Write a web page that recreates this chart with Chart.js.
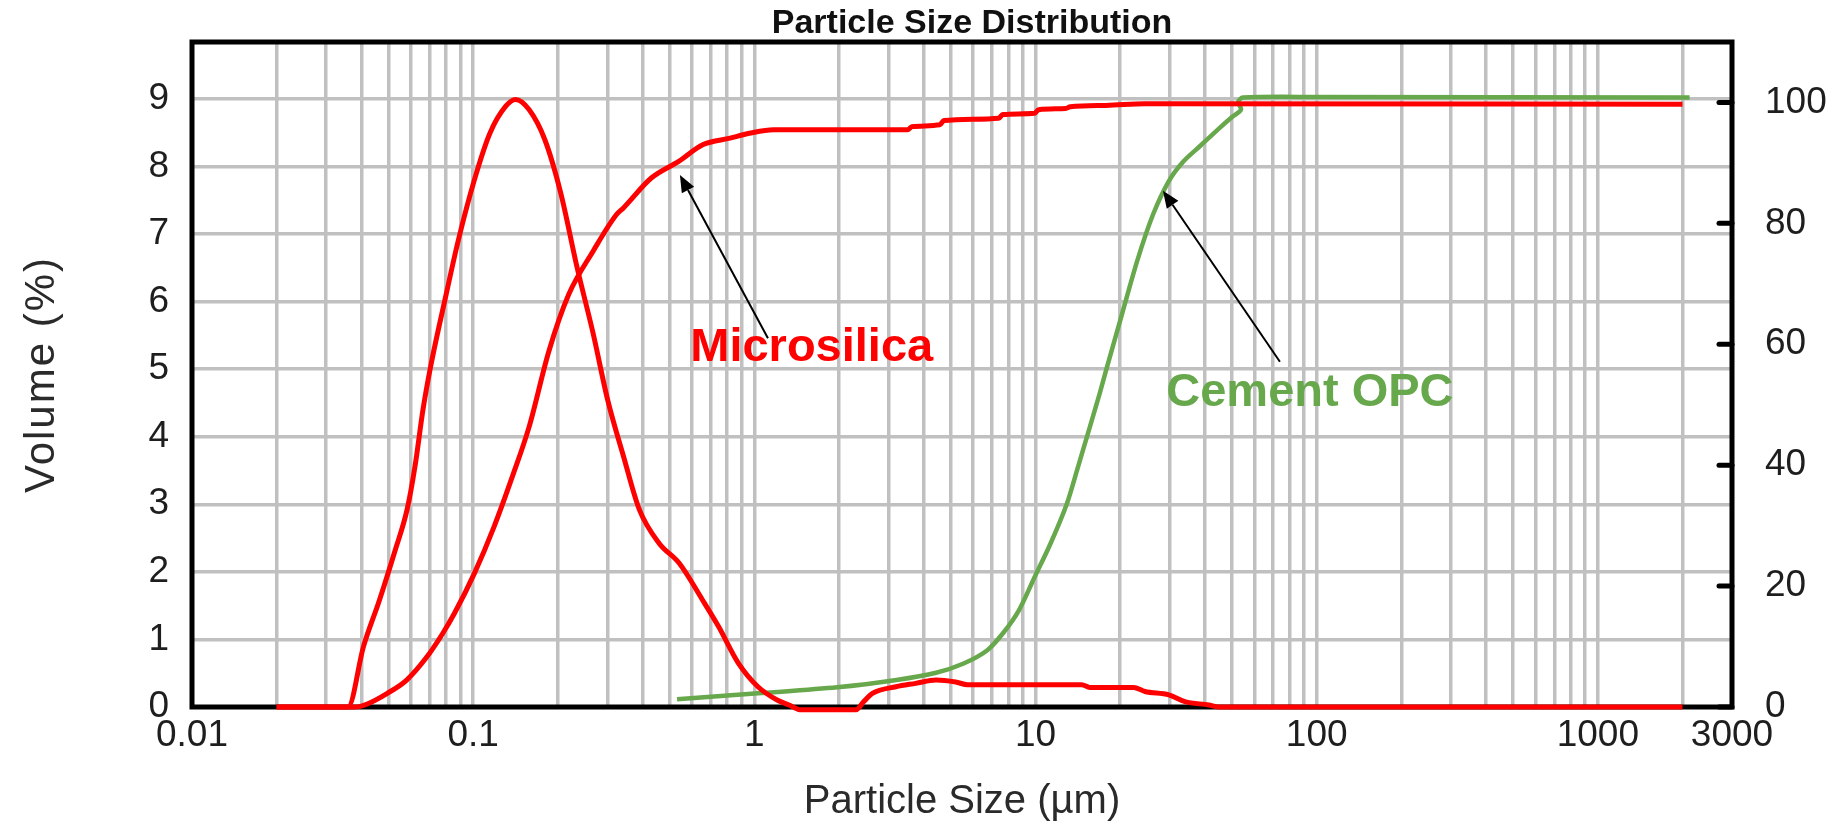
<!DOCTYPE html>
<html><head><meta charset="utf-8">
<script src="https://cdn.jsdelivr.net/npm/chart.js@4.4.1/dist/chart.umd.min.js"></script>
<style>html,body{margin:0;padding:0;background:#fff;}canvas{display:block;}</style>
</head><body>
<canvas id="c" width="1845" height="828"></canvas>
<script>
// ---- tick labels ----
const X_LABEL_VALUES = [0.01, 0.1, 1, 10, 100, 1000, 3000];
const X_LABELS = ['0.01', '0.1', '1', '10', '100', '1000', '3000'];
const LEFT_TICKS = [0, 1, 2, 3, 4, 5, 6, 7, 8, 9];
const RIGHT_TICKS = [0, 20, 40, 60, 80, 100];

// ---- Microsilica, frequency (Volume %, left axis) ----
const MS_FREQ_X = [0.02, 0.0359, 0.0407, 0.0464, 0.0528, 0.0582, 0.0621, 0.0663, 0.0706, 0.0803, 0.0886, 0.101, 0.1147, 0.1306, 0.1415, 0.158, 0.180, 0.205, 0.234, 0.267, 0.301, 0.343, 0.390, 0.459, 0.540, 0.655, 0.746, 0.877, 1.03, 1.21, 1.33, 1.45, 2.3, 2.45, 2.63, 3.19, 3.75, 4.43, 5.2, 5.73, 14.6, 15.6, 22.3, 24.5, 29.8, 34, 41.3, 45, 2000];
const MS_FREQ_Y = [0, 0, 0.89, 1.58, 2.32, 2.92, 3.56, 4.40, 5.04, 6.12, 6.91, 7.80, 8.49, 8.89, 8.99, 8.84, 8.39, 7.6, 6.51, 5.53, 4.54, 3.70, 2.92, 2.42, 2.13, 1.58, 1.19, 0.65, 0.30, 0.10, 0.03, -0.04, -0.04, 0.08, 0.2, 0.30, 0.35, 0.40, 0.37, 0.33, 0.33, 0.29, 0.29, 0.23, 0.18, 0.08, 0.03, 0, 0];

// ---- Microsilica, cumulative (right axis) ----
const MS_CUM_X = [0.02, 0.038, 0.042, 0.0495, 0.058, 0.0685, 0.078, 0.0858, 0.101, 0.1186, 0.139, 0.158, 0.186, 0.219, 0.267, 0.324, 0.343, 0.43, 0.54, 0.655, 0.82, 0.96, 1.17, 3.52, 3.63, 4.57, 4.72, 7.4, 7.65, 9.93, 10.25, 12.8, 13.3, 17.8, 24.5, 2000];
const MS_CUM_Y = [0, 0, 0.5, 2.26, 4.46, 8.3, 12.2, 15.5, 22.1, 29.8, 38.6, 46.3, 58.9, 68.3, 75.4, 81.5, 82.6, 87.5, 90.3, 93.0, 94.1, 94.9, 95.5, 95.5, 96.0, 96.3, 97.0, 97.4, 98.0, 98.2, 98.8, 99.0, 99.3, 99.5, 99.8, 99.7];

// ---- Cement OPC, cumulative (right axis) ----
const CEM_X = [0.531, 1.03, 1.97, 3.2, 4.43, 5.55, 6.74, 7.66, 8.73, 9.93, 11.3, 12.9, 14.2, 15.6, 16.9, 17.8, 20.2, 23.0, 26.2, 29.8, 33.5, 38.5, 45.2, 50.0, 53.8, 52.6, 54.7, 100, 2120];
const CEM_Y = [1.27, 2.26, 3.25, 4.46, 5.66, 7.2, 9.4, 12.2, 16.0, 21.5, 27.0, 33.5, 39.9, 46.3, 51.8, 55.6, 64.6, 73.8, 81.5, 87.0, 90.2, 92.8, 95.8, 97.6, 98.8, 100.1, 100.8, 100.9, 100.8];

// ---- annotations (data coordinates on x / right axis) ----
const LABELS = [
  { text: 'Microsilica', x: 1.6, y: 59.4, color: '#ff0000' },
  { text: 'Cement OPC', x: 94.6, y: 51.9, color: '#67a84c' }
];
const ARROWS = [
  { fromX: 1.118, fromY: 61.0, toX: 0.5436, toY: 88.0 },
  { fromX: 74.0, fromY: 57.1, toX: 28.4, toY: 85.4 }
];

const FONT = '"Liberation Sans", Arial, sans-serif';
const RED = '#ff0000';
const GREEN = '#67a84c';
const GRID = '#c0c0c0';
const TEXT = '#1e1e1e';

// pick a narrow face for the tick numbers when it is installed
function hasFont(name) {
  const c = document.createElement('canvas').getContext('2d');
  c.font = '40px monospace';
  const a = c.measureText('0123456789 mmm').width;
  c.font = '40px "' + name + '", monospace';
  return Math.abs(c.measureText('0123456789 mmm').width - a) > 0.5;
}
const NARROW = hasFont('Liberation Sans Narrow');
const TICK_FONT = NARROW ? { family: '"Liberation Sans Narrow", "Liberation Sans", Arial, sans-serif', size: 41 }
                         : { family: FONT, size: 37 };

// log grid positions 1..9 x 10^k inside the range
const X_GRID = [];
for (let e = -2; e <= 3; e++) {
  for (let m = 1; m <= 9; m++) {
    const v = +(m * Math.pow(10, e)).toPrecision(6);
    if (v >= 0.01 && v <= 3000) X_GRID.push(v);
  }
}
if (!X_GRID.includes(3000)) X_GRID.push(3000);

const pts = (xs, ys) => xs.map((x, i) => ({ x, y: ys[i] }));
const noPad = s => { s.paddingTop = 0; s.paddingBottom = 0; s.paddingLeft = 0; s.paddingRight = 0; };

// the y title in the original is loosely spaced
const spacingPlugin = {
  id: 'spacing',
  afterLayout(chart) {
    const s = chart.scales.y;
    if (s && !s.__spaced) {
      const orig = s.drawTitle.bind(s);
      s.drawTitle = function () {
        const c = this.ctx;
        const prev = c.letterSpacing;
        c.letterSpacing = '2px';
        orig();
        c.letterSpacing = prev || '0px';
      };
      s.__spaced = true;
    }
  }
};

const framePlugin = {
  id: 'frame',
  beforeDatasetsDraw(chart) {
    const { ctx, chartArea: a } = chart;
    ctx.save();
    ctx.strokeStyle = '#000';
    ctx.lineWidth = 5;
    ctx.strokeRect(a.left, a.top, a.right - a.left, a.bottom - a.top);
    const s = chart.scales.y2;
    ctx.lineCap = 'round';
    s.ticks.forEach(t => {
      const y = s.getPixelForValue(t.value);
      ctx.beginPath();
      ctx.moveTo(a.right - 13, y);
      ctx.lineTo(a.right, y);
      ctx.stroke();
    });
    ctx.restore();
  }
};

const annotPlugin = {
  id: 'annot',
  afterDatasetsDraw(chart) {
    const { ctx, chartArea: a, scales } = chart;
    const sx = scales.x, sy = scales.y2;
    ctx.save();
    // title
    ctx.fillStyle = '#111';
    ctx.font = 'bold 34px ' + FONT;
    ctx.textAlign = 'center';
    ctx.textBaseline = 'alphabetic';
    ctx.fillText('Particle Size Distribution', (a.left + a.right) / 2 + 10, a.top - 9);
    // arrows
    ctx.strokeStyle = '#000';
    ctx.fillStyle = '#000';
    ctx.lineWidth = 2;
    ARROWS.forEach(ar => {
      const x0 = sx.getPixelForValue(ar.fromX), y0 = sy.getPixelForValue(ar.fromY);
      const x1 = sx.getPixelForValue(ar.toX), y1 = sy.getPixelForValue(ar.toY);
      const ang = Math.atan2(y1 - y0, x1 - x0);
      const L = 17, W = 7;
      const bx = x1 - L * Math.cos(ang), by = y1 - L * Math.sin(ang);
      ctx.beginPath();
      ctx.moveTo(x0, y0);
      ctx.lineTo(bx, by);
      ctx.stroke();
      ctx.beginPath();
      ctx.moveTo(x1, y1);
      ctx.lineTo(bx + W * Math.sin(ang), by - W * Math.cos(ang));
      ctx.lineTo(bx - W * Math.sin(ang), by + W * Math.cos(ang));
      ctx.closePath();
      ctx.fill();
    });
    // labels
    ctx.font = 'bold 47px ' + FONT;
    ctx.textAlign = 'center';
    ctx.textBaseline = 'middle';
    LABELS.forEach(l => {
      ctx.fillStyle = l.color;
      ctx.fillText(l.text, sx.getPixelForValue(l.x), sy.getPixelForValue(l.y));
    });
    ctx.restore();
  }
};

new Chart(document.getElementById('c'), {
  type: 'line',
  data: {
    datasets: [
      { label: 'Microsilica volume', data: pts(MS_FREQ_X, MS_FREQ_Y), yAxisID: 'y', borderColor: RED, borderWidth: 5, pointRadius: 0, cubicInterpolationMode: 'monotone', clip: 12, fill: false },
      { label: 'Microsilica cumulative', data: pts(MS_CUM_X, MS_CUM_Y), yAxisID: 'y2', borderColor: RED, borderWidth: 5, pointRadius: 0, cubicInterpolationMode: 'monotone', clip: 12, fill: false },
      { label: 'Cement OPC cumulative', data: pts(CEM_X, CEM_Y), yAxisID: 'y2', borderColor: GREEN, borderWidth: 4.5, pointRadius: 0, tension: 0.3, clip: 12, fill: false }
    ]
  },
  options: {
    responsive: false,
    animation: false,
    events: [],
    layout: { padding: { top: 42, left: 0, right: 0, bottom: 0 } },
    plugins: { legend: { display: false }, tooltip: { enabled: false }, title: { display: false } },
    scales: {
      x: {
        type: 'logarithmic', position: 'bottom', min: 0.01, max: 3000,
        afterBuildTicks: s => { s.ticks = X_GRID.map(v => ({ value: v })); },
        afterFit: s => { s.height = 121; noPad(s); },
        grid: { color: GRID, lineWidth: 3.5, drawTicks: false },
        border: { display: false },
        ticks: {
          autoSkip: false, maxRotation: 0, minRotation: 0, padding: 7, color: TEXT,
          font: TICK_FONT,
          callback: v => {
            const i = X_LABEL_VALUES.findIndex(t => Math.abs(Math.log10(t) - Math.log10(v)) < 1e-6);
            return i >= 0 ? X_LABELS[i] : '';
          }
        },
        title: { display: true, text: 'Particle Size (µm)', color: '#2a2a2a', font: { family: FONT, size: 40 }, padding: { top: 0, bottom: 2 } }
      },
      y: {
        type: 'linear', position: 'left', min: 0, max: 9.84, bounds: 'data',
        afterBuildTicks: s => { s.ticks = LEFT_TICKS.map(v => ({ value: v })); },
        afterFit: s => { s.width = 192; noPad(s); },
        grid: { color: GRID, lineWidth: 3.5, drawTicks: false },
        border: { display: false },
        ticks: { padding: 23, color: TEXT, font: TICK_FONT },
        title: { display: true, text: 'Volume (%)', color: '#2a2a2a', font: { family: FONT, size: 42 }, padding: { top: 17, bottom: 0 } }
      },
      y2: {
        type: 'linear', position: 'right', min: 0, max: 110, bounds: 'data',
        afterBuildTicks: s => { s.ticks = RIGHT_TICKS.map(v => ({ value: v })); },
        afterFit: s => { s.width = 113; noPad(s); },
        grid: { drawOnChartArea: false, drawTicks: false },
        border: { display: false },
        ticks: { padding: 33, color: TEXT, font: TICK_FONT }
      }
    }
  },
  plugins: [spacingPlugin, framePlugin, annotPlugin]
});
</script>
</body></html>
